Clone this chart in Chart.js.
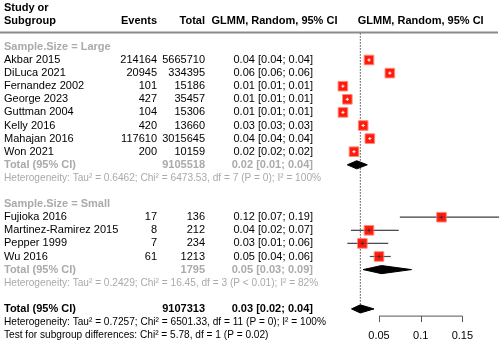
<!DOCTYPE html>
<html>
<head>
  <meta charset="utf-8">
  <title>Forest plot</title>
  <script src="https://cdn.jsdelivr.net/npm/chart.js@4.4.1/dist/chart.umd.min.js"></script>
  <style>
    html, body { margin: 0; padding: 0; background: #fff; }
    canvas { display: block; }
  </style>
</head>
<body>
  <canvas id="forest" width="500" height="343"></canvas>
  <script>
    // study level data
    var studies = ['Akbar 2015', 'DiLuca 2021', 'Fernandez 2002', 'George 2023', 'Guttman 2004',
      'Kelly 2016', 'Mahajan 2016', 'Won 2021', 'Fujioka 2016', 'Martinez-Ramirez 2015', 'Pepper 1999', 'Wu 2016'];
    var groups = ['Large', 'Large', 'Large', 'Large', 'Large', 'Large', 'Large', 'Large',
      'Small', 'Small', 'Small', 'Small'];
    var events = [214164, 20945, 101, 427, 104, 420, 117610, 200, 17, 8, 7, 61];
    var totals = [5665710, 334395, 15186, 35457, 15306, 13660, 3015645, 10159, 136, 212, 234, 1213];
    var est = [0.038, 0.063, 0.0067, 0.012, 0.0068, 0.031, 0.039, 0.020, 0.125, 0.038, 0.030, 0.050];
    var lower = [0.0377, 0.0618, 0.0055, 0.011, 0.0056, 0.028, 0.0387, 0.0172, 0.075, 0.0164, 0.0121, 0.039];
    var upper = [0.0380, 0.0634, 0.0081, 0.0132, 0.0082, 0.034, 0.0393, 0.0226, 0.194, 0.0736, 0.061, 0.064];
    var ciText = ['0.04 [0.04; 0.04]', '0.06 [0.06; 0.06]', '0.01 [0.01; 0.01]', '0.01 [0.01; 0.01]',
      '0.01 [0.01; 0.01]', '0.03 [0.03; 0.03]', '0.04 [0.04; 0.04]', '0.02 [0.02; 0.02]',
      '0.12 [0.07; 0.19]', '0.04 [0.02; 0.07]', '0.03 [0.01; 0.06]', '0.05 [0.04; 0.06]'];

    // subgroup and overall pooled results
    var subgroupNames = ['Large', 'Small'];
    var subgroupTotal = [9105518, 1795];
    var subgroupEst = [0.0233, 0.053];
    var subgroupLower = [0.012, 0.031];
    var subgroupUpper = [0.036, 0.089];
    var subgroupCiText = ['0.02 [0.01; 0.04]', '0.05 [0.03; 0.09]'];
    var subgroupHet = [
      'Heterogeneity: Tau\u00b2 = 0.6462; Chi\u00b2 = 6473.53, df = 7 (P = 0); I\u00b2 = 100%',
      'Heterogeneity: Tau\u00b2 = 0.2429; Chi\u00b2 = 16.45, df = 3 (P < 0.01); I\u00b2 = 82%'
    ];
    var overallTotal = 9107313;
    var overallEst = 0.0276, overallLower = 0.017, overallUpper = 0.044;
    var overallCiText = '0.03 [0.02; 0.04]';
    var overallHet = 'Heterogeneity: Tau\u00b2 = 0.7257; Chi\u00b2 = 6501.33, df = 11 (P = 0); I\u00b2 = 100%';
    var subgroupTest = 'Test for subgroup differences: Chi\u00b2 = 5.78, df = 1 (P = 0.02)';
    var tickValues = [0.05, 0.1, 0.15];
    var tickLabels = ['0.05', '0.1', '0.15'];

    // layout: work out which row every line sits on
    var rowOfStudy = [], rowOfSubHead = [], rowOfSubTotal = [], rowOfSubHet = [];
    var r = -1;
    subgroupNames.forEach(function (g, gi) {
      rowOfSubHead[gi] = r++;
      groups.forEach(function (gg, i) { if (gg === g) rowOfStudy[i] = r++; });
      rowOfSubTotal[gi] = r++;
      rowOfSubHet[gi] = r++;
      r++;
    });
    var rowOverall = r, rowOverallHet = r + 1, rowTest = r + 2;

    var GREY = '#aaaaaa';
    var FONT = '"Liberation Sans", Arial, sans-serif';
    var HALF = 0.31; // diamond half height in rows

    var datasets = [];
    // confidence interval lines
    studies.forEach(function (s, i) {
      var inside = groups[i] === 'Large';
      datasets.push({
        type: 'line', order: 3,
        data: [{ x: lower[i], y: rowOfStudy[i] }, { x: upper[i], y: rowOfStudy[i] }],
        borderColor: inside ? '#ffffff' : '#555555', borderWidth: 1.2,
        pointRadius: 0, fill: false
      });
    });
    // study squares
    datasets.push({
      type: 'scatter', order: 2,
      data: studies.map(function (s, i) { return { x: est[i], y: rowOfStudy[i] }; }),
      pointStyle: 'rect', pointRadius: 6.8,
      backgroundColor: '#ff1a0a', borderColor: '#ff8a80', borderWidth: 1
    });
    // small marks inside the squares
    datasets.push({
      type: 'scatter', order: 1,
      data: studies.map(function (s, i) { return { x: est[i], y: rowOfStudy[i] }; }),
      pointStyle: 'crossRot', pointRotation: 45, pointRadius: 1.6, borderWidth: 1,
      borderColor: groups.map(function (g) { return g === 'Large' ? '#ffffff' : '#333333'; }),
      backgroundColor: 'transparent'
    });
    // CI lines again on top of squares for the wide intervals
    studies.forEach(function (s, i) {
      if (groups[i] === 'Large') return;
      datasets.push({
        type: 'line', order: 0,
        data: [{ x: lower[i], y: rowOfStudy[i] }, { x: upper[i], y: rowOfStudy[i] }],
        borderColor: 'rgba(60,60,60,0.35)', borderWidth: 1,
        pointRadius: 0, fill: false
      });
    });
    // diamonds
    function diamond(lo, mid, hi, row) {
      return {
        type: 'line', order: 2,
        data: [{ x: lo, y: row }, { x: mid, y: row - HALF }, { x: hi, y: row },
               { x: mid, y: row + HALF }, { x: lo, y: row }],
        borderColor: '#000000', backgroundColor: '#000000', borderWidth: 1,
        pointRadius: 0, fill: 'shape', tension: 0
      };
    }
    subgroupNames.forEach(function (g, gi) {
      datasets.push(diamond(subgroupLower[gi], subgroupEst[gi], subgroupUpper[gi], rowOfSubTotal[gi]));
    });
    datasets.push(diamond(overallLower, overallEst, overallUpper, rowOverall));
    // dotted reference line at overall estimate
    datasets.push({
      type: 'line', order: 4,
      data: [{ x: overallEst, y: -2.05 }, { x: overallEst, y: rowOverall - 0.35 }],
      borderColor: '#444444', borderWidth: 1, borderDash: [1.5, 1.5],
      pointRadius: 0, fill: false
    });

    var tablePlugin = {
      id: 'forestTable',
      afterDraw: function (chart) {
        var c = chart.ctx, xs = chart.scales.x, ys = chart.scales.y;
        var Y = function (row) { return ys.getPixelForValue(row); };
        function txt(s, x, row, align, bold, color, squeeze) {
          c.save();
          c.font = (bold ? 'bold ' : '') + '11px ' + FONT;
          c.fillStyle = color || '#000000';
          c.textAlign = align;
          c.textBaseline = 'middle';
          c.translate(x, Y(row));
          if (squeeze) c.scale(squeeze, 1);
          c.fillText(s, 0, 0);
          c.restore();
        }
        c.save();
        // header
        txt('Study or', 4, -4, 'left', true);
        txt('Subgroup', 4, -3, 'left', true);
        txt('Events', 157, -3, 'right', true);
        txt('Total', 205, -3, 'right', true);
        txt('GLMM, Random, 95% CI', 274.5, -3, 'center', true);
        txt('GLMM, Random, 95% CI', xs.getPixelForValue(0.1), -3, 'center', true);
        c.strokeStyle = '#8a8a8a';
        c.lineWidth = 2;
        c.beginPath();
        c.moveTo(0, Y(-2.1));
        c.lineTo(498, Y(-2.1));
        c.stroke();
        // subgroups
        subgroupNames.forEach(function (g, gi) {
          txt('Sample.Size = ' + g, 4, rowOfSubHead[gi], 'left', true, GREY);
          txt('Total (95% CI)', 4, rowOfSubTotal[gi], 'left', true, GREY);
          txt(String(subgroupTotal[gi]), 205, rowOfSubTotal[gi], 'right', true, GREY);
          txt(subgroupCiText[gi], 313, rowOfSubTotal[gi], 'right', true, GREY);
          txt(subgroupHet[gi], 4, rowOfSubHet[gi], 'left', false, GREY, 0.92);
        });
        studies.forEach(function (s, i) {
          txt(s, 4, rowOfStudy[i], 'left', false);
          txt(String(events[i]), 157, rowOfStudy[i], 'right', false);
          txt(String(totals[i]), 205, rowOfStudy[i], 'right', false);
          txt(ciText[i], 313, rowOfStudy[i], 'right', false);
        });
        txt('Total (95% CI)', 4, rowOverall, 'left', true);
        txt(String(overallTotal), 205, rowOverall, 'right', true);
        txt(overallCiText, 313, rowOverall, 'right', true);
        txt(overallHet, 4, rowOverallHet, 'left', false, null, 0.92);
        txt(subgroupTest, 4, rowTest, 'left', false, null, 0.92);
        // x axis
        var ay = Y(rowOverall + 0.55);
        c.strokeStyle = '#555555';
        c.lineWidth = 1;
        c.beginPath();
        c.moveTo(xs.getPixelForValue(tickValues[0]), ay);
        c.lineTo(xs.getPixelForValue(tickValues[tickValues.length - 1]), ay);
        tickValues.forEach(function (v) {
          var px = Math.round(xs.getPixelForValue(v)) + 0.5;
          c.moveTo(px, ay);
          c.lineTo(px, ay + 6);
        });
        c.stroke();
        tickValues.forEach(function (v, i) {
          txt(tickLabels[i], xs.getPixelForValue(v), rowTest + 0.1, 'center', false);
        });
        c.restore();
      }
    };

    var PXU = 834;   // pixels per unit on the x axis
    var ROWH = 13.1; // pixels per row
    var ctx = document.getElementById('forest').getContext('2d');
    window.forest = new Chart(ctx, {
      type: 'scatter',
      data: { datasets: datasets },
      options: {
        responsive: false,
        animation: false,
        events: [],
        layout: { padding: 0, autoPadding: false },
        plugins: { legend: { display: false }, tooltip: { enabled: false } },
        scales: {
          x: { type: 'linear', min: -337.3 / PXU, max: (500 - 337.3) / PXU, display: false },
          y: { type: 'linear', min: -60 / ROWH, max: (343 - 60) / ROWH, reverse: true, display: false }
        }
      },
      plugins: [tablePlugin]
    });
  </script>
</body>
</html>
